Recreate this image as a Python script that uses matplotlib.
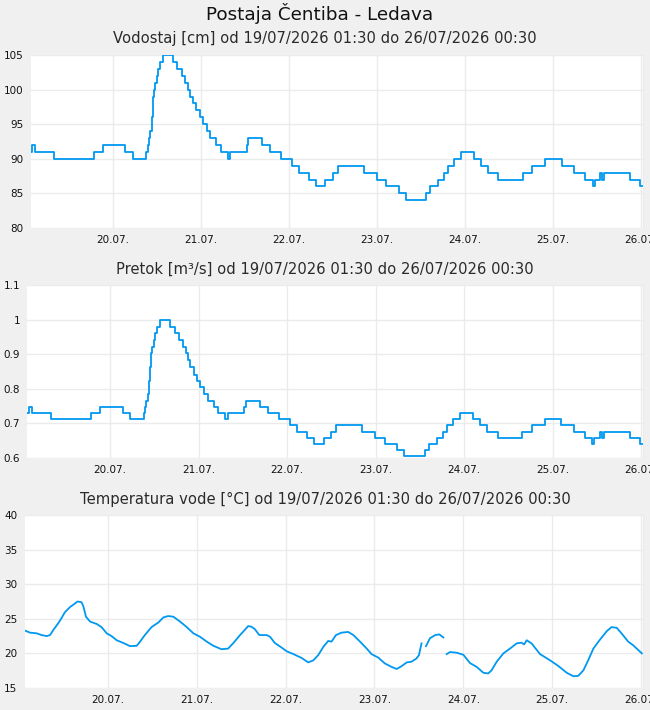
import matplotlib.pyplot as plt
import matplotlib.dates as mdates
import matplotlib.ticker as mticker
import numpy as np
import pandas as pd

start = pd.Timestamp('2026-07-19 01:30')
end = pd.Timestamp('2026-07-26 00:30')

# hours since start where the level / flow changes (step data)
step_h = [0.0, 0.5, 1.3, 6.4, 17.4, 19.9, 25.9, 28.0, 31.6, 32.0, 32.3, 32.7, 33.0,
          33.2, 33.3, 33.4, 33.5, 33.7, 34.0, 34.4, 34.8, 35.3, 36.0, 38.9, 40.0,
          41.3, 42.2, 43.0, 43.6, 44.2, 45.2, 46.2, 47.0, 48.0, 49.0, 50.6, 51.9,
          53.8, 54.4, 58.9, 59.4, 63.1, 65.3, 68.3, 71.3, 73.3, 75.8, 77.9, 80.4,
          82.4, 83.8, 90.8, 94.4, 97.0, 100.4, 102.3, 107.8, 108.9, 111.2, 112.8,
          113.9, 115.6, 117.4, 120.8, 122.9, 124.8, 127.6, 134.2, 136.8, 140.3,
          144.8, 148.3, 151.2, 153.3, 153.8, 155.3, 155.8, 156.3, 163.5, 166.3, 167.0]
level_cm = [91, 92, 91, 90, 91, 92, 91, 90, 91, 92, 93, 94, 95,
            96, 97, 98, 99, 100, 101, 102, 103, 104, 105, 104, 103,
            102, 101, 100, 99, 98, 97, 96, 95, 94, 93, 92, 91,
            90, 91, 92, 93, 92, 91, 90, 89, 88, 87, 86, 87,
            88, 89, 88, 87, 86, 85, 84, 85, 86, 87, 88,
            89, 90, 91, 90, 89, 88, 87, 88, 89, 90,
            89, 88, 87, 86, 87, 88, 87, 88, 87, 86, 86]
flow_m3s = [0.731, 0.748, 0.731, 0.713, 0.731, 0.748, 0.731, 0.713, 0.731, 0.748, 0.766, 0.785, 0.805,
            0.822, 0.840, 0.862, 0.883, 0.903, 0.920, 0.940, 0.960, 0.980, 1.000, 0.980, 0.960,
            0.940, 0.920, 0.903, 0.883, 0.862, 0.840, 0.822, 0.805, 0.785, 0.766, 0.748, 0.731,
            0.713, 0.731, 0.748, 0.766, 0.748, 0.731, 0.713, 0.695, 0.676, 0.658, 0.640, 0.658,
            0.676, 0.695, 0.676, 0.658, 0.640, 0.622, 0.606, 0.622, 0.640, 0.658, 0.676,
            0.695, 0.713, 0.731, 0.713, 0.695, 0.676, 0.658, 0.676, 0.695, 0.713,
            0.695, 0.676, 0.658, 0.640, 0.658, 0.676, 0.658, 0.676, 0.658, 0.640, 0.640]

# water temperature, hours since start (nan = gap in record)
temp_h = [0.1, 1.5, 3.3, 4.6, 6.0, 6.9, 7.8, 9.1, 10.0, 10.9, 12.3, 13.6, 14.3, 15.4, 15.9,
          16.6, 17.7, 19.5, 20.8, 22.2, 23.5, 24.9, 26.7, 28.5, 30.3, 31.2, 32.5, 34.3,
          36.1, 37.5, 38.8, 40.2, 42.0, 43.8, 45.6, 47.4, 49.2, 51.0, 53.2, 55.0, 56.4,
          58.2, 59.5, 60.4, 61.3, 62.2, 63.4, 65.4, 66.3, 67.6, 69.4, 70.8, 72.6, 74.8,
          76.6, 78.0, 79.3, 80.7, 82.0, 82.9, 84.1, 85.6, 87.4, 88.8, 90.6, 92.4, 93.7,
          95.5, 97.3, 99.1, 100.5, 101.8, 103.2, 104.5, 105.8, 106.5, 107.2, 107.8,
          108.4, 109.5, 110.9, 112.0, 113.1, 113.5,
          114.0, 114.9, 116.7, 118.5, 120.3, 122.1, 123.9, 125.2, 126.1, 127.5, 129.3,
          131.1, 132.9, 134.2, 134.9, 135.6, 136.9, 139.2, 141.9, 144.1, 146.4, 148.2,
          149.5, 150.9, 152.2, 153.6, 155.4, 157.2, 158.5, 159.9, 161.2, 163.0, 164.3,
          165.7, 166.7]
temp_c = [23.3, 23.0, 22.9, 22.65, 22.5, 22.65, 23.4, 24.35, 25.1, 25.95, 26.7, 27.2, 27.5, 27.4, 26.8,
          25.3, 24.6, 24.25, 23.8, 22.9, 22.5, 21.9, 21.5, 21.05, 21.1, 21.7, 22.65, 23.8,
          24.45, 25.2, 25.4, 25.3, 24.6, 23.8, 22.9, 22.4, 21.7, 21.1, 20.6, 20.7, 21.5,
          22.65, 23.4, 23.95, 23.85, 23.5, 22.65, 22.65, 22.4, 21.5, 20.85, 20.3, 19.9, 19.35,
          18.7, 19.0, 19.75, 20.95, 21.8, 21.7, 22.65, 23.0, 23.1, 22.65, 21.7, 20.7, 19.9,
          19.4, 18.55, 18.05, 17.75, 18.15, 18.7, 18.8, 19.25, 19.75, 21.45, np.nan,
          21.05, 22.2, 22.65, 22.75, 22.3, np.nan,
          19.9, 20.2, 20.1, 19.8, 18.6, 18.05, 17.2, 17.1, 17.55, 18.8, 20.0,
          20.7, 21.45, 21.55, 21.3, 21.9, 21.45, 19.9, 19.0, 18.2, 17.2, 16.7,
          16.75, 17.55, 19.0, 20.7, 22.0, 23.2, 23.8, 23.7, 22.9, 21.7, 21.2,
          20.5, 20.0]

line_col = '#0098f0'
grid_col = '#ebebeb'
W, H = 650, 710

fig = plt.figure(figsize=(6.5, 7.1), dpi=100, facecolor='#f0f0f0')
fig.text(320 / W, 1 - 14 / H, 'Postaja Čentiba - Ledava', ha='center', va='center',
         fontsize=13.2, color='#111111')

panels = [
    (30.5, 55, 'Vodostaj [cm] od 19/07/2026 01:30 do 26/07/2026 00:30', 39,
     step_h, level_cm, (80, 105), np.arange(80, 106, 5), True),
    (27, 285, 'Pretok [m³/s] od 19/07/2026 01:30 do 26/07/2026 00:30', 269,
     step_h, flow_m3s, (0.6, 1.1), [0.6, 0.7, 0.8, 0.9, 1.0, 1.1], True),
    (24.5, 515, 'Temperatura vode [°C] od 19/07/2026 01:30 do 26/07/2026 00:30', 499,
     temp_h, temp_c, (15, 40), np.arange(15, 41, 5), False),
]

for left, top, title, title_y, hrs, vals, ylim, yticks, stepped in panels:
    ax = fig.add_axes([left / W, 1 - (top + 173) / H, (643 - left) / W, 173 / H])
    t = start + pd.to_timedelta(hrs, unit='h')
    ax.plot(t, vals, color=line_col, lw=1.3,
            drawstyle='steps-post' if stepped else 'default')
    ax.set_xlim(start, end)
    ax.set_ylim(*ylim)
    ax.set_yticks(yticks)
    ax.yaxis.set_major_formatter(mticker.FuncFormatter(lambda v, p: '%g' % round(v, 2)))
    ax.xaxis.set_major_locator(mdates.DayLocator())
    ax.xaxis.set_major_formatter(mdates.DateFormatter('%d.%m.'))
    ax.grid(True, color=grid_col, lw=1)
    ax.set_axisbelow(True)
    ax.tick_params(length=0, labelsize=7.5, pad=5, colors='#111111')
    for s in ['top', 'left', 'bottom']:
        ax.spines[s].set_visible(False)
    ax.spines['right'].set_color(grid_col)
    fig.text(325 / W, 1 - title_y / H, title, ha='center', va='center',
             fontsize=10.6, color='#2a2a2a')

fig.savefig('out.png', dpi=100, facecolor=fig.get_facecolor())
